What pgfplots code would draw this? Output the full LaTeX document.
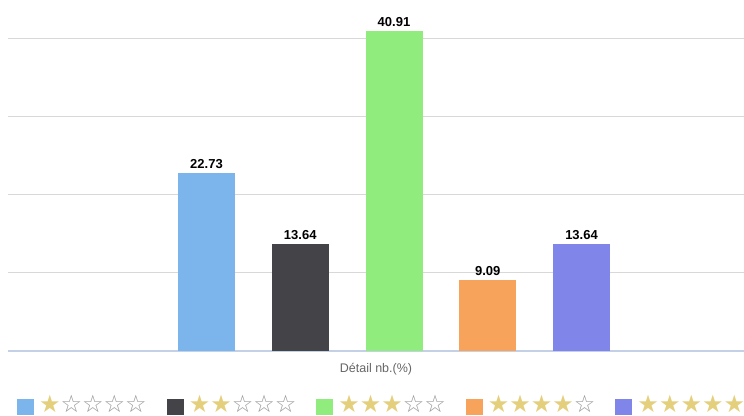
\documentclass[border=0pt]{standalone}
\usepackage{pgfplots}
\pgfplotsset{compat=1.18}
\usepackage{fontspec}
\setmainfont{Liberation Sans}
\newfontfamily\starfont{DejaVu Sans}

\definecolor{hcblue}{HTML}{7CB5EC}
\definecolor{hcdark}{HTML}{434348}
\definecolor{hcgreen}{HTML}{90ED7D}
\definecolor{hcorange}{HTML}{F7A35C}
\definecolor{hcpurple}{HTML}{8085E9}
\definecolor{gridgray}{HTML}{D8D8D8}
\definecolor{basecol}{HTML}{C4D0E6}
\definecolor{labelgray}{HTML}{666666}
\definecolor{stargold}{HTML}{E3CF7C}
\definecolor{stargray}{HTML}{9A9A9A}

\newcommand{\stars}[1]{{\fontsize{24bp}{24bp}\selectfont\starfont
  \foreach \i in {1,...,5}{\ifnum\i>#1\textcolor{stargray}{☆}\else\textcolor{stargold}{★}\fi}}}

\begin{document}
\begin{tikzpicture}
\begin{axis}[
    at={(8bp,65bp)}, anchor=south west,
    scale only axis,
    width=736bp, height=341bp,
    xmin=-1.117, xmax=6.733,
    ymin=0, ymax=43.6,
    ybar, bar width=0.608, bar shift=0pt,
    axis x line*=bottom,
    axis y line*=left,
    x axis line style={draw=basecol, line width=1.2bp},
    y axis line style={draw=none},
    xtick=\empty,
    ytick={10,20,30,40},
    yticklabels={},
    major tick length=0pt,
    ymajorgrids,
    grid style={draw=gridgray, line width=1bp},
    xlabel={Détail nb.(\%)},
    xlabel style={font=\fontsize{12.5bp}{14bp}\selectfont, text=labelgray, yshift=-9bp},
    nodes near coords,
    every node near coord/.append style={font=\fontsize{13bp}{15bp}\selectfont\bfseries, text=black, yshift=1bp},
    /pgf/number format/.cd, fixed, fixed zerofill, precision=2, assume math mode=true, /pgfplots/.cd,
    legend columns=5,
    legend cell align=left,
    legend style={draw=none, fill=none, inner sep=0pt, anchor=west,
        at={(rel axis cs:0.0122,-0.158)},
        /tikz/every even column/.append style={column sep=20bp},
        nodes={inner sep=0pt, anchor=base west}},
    legend image code/.code={\fill[#1,draw=none] (0bp,-2bp) rectangle (17bp,13.5bp);},
]
\addplot[fill=hcblue, draw=none] coordinates {(1,22.73)};
\addlegendentry{\hspace{5bp}\stars{1}}
\addplot[fill=hcdark, draw=none] coordinates {(2,13.64)};
\addlegendentry{\hspace{5bp}\stars{2}}
\addplot[fill=hcgreen, draw=none] coordinates {(3,40.91)};
\addlegendentry{\hspace{5bp}\stars{3}}
\addplot[fill=hcorange, draw=none] coordinates {(4,9.09)};
\addlegendentry{\hspace{5bp}\stars{4}}
\addplot[fill=hcpurple, draw=none] coordinates {(5,13.64)};
\addlegendentry{\hspace{5bp}\stars{5}}
\end{axis}
\pgfresetboundingbox
\useasboundingbox (0,0) rectangle (744bp,416bp);
\end{tikzpicture}
\end{document}
